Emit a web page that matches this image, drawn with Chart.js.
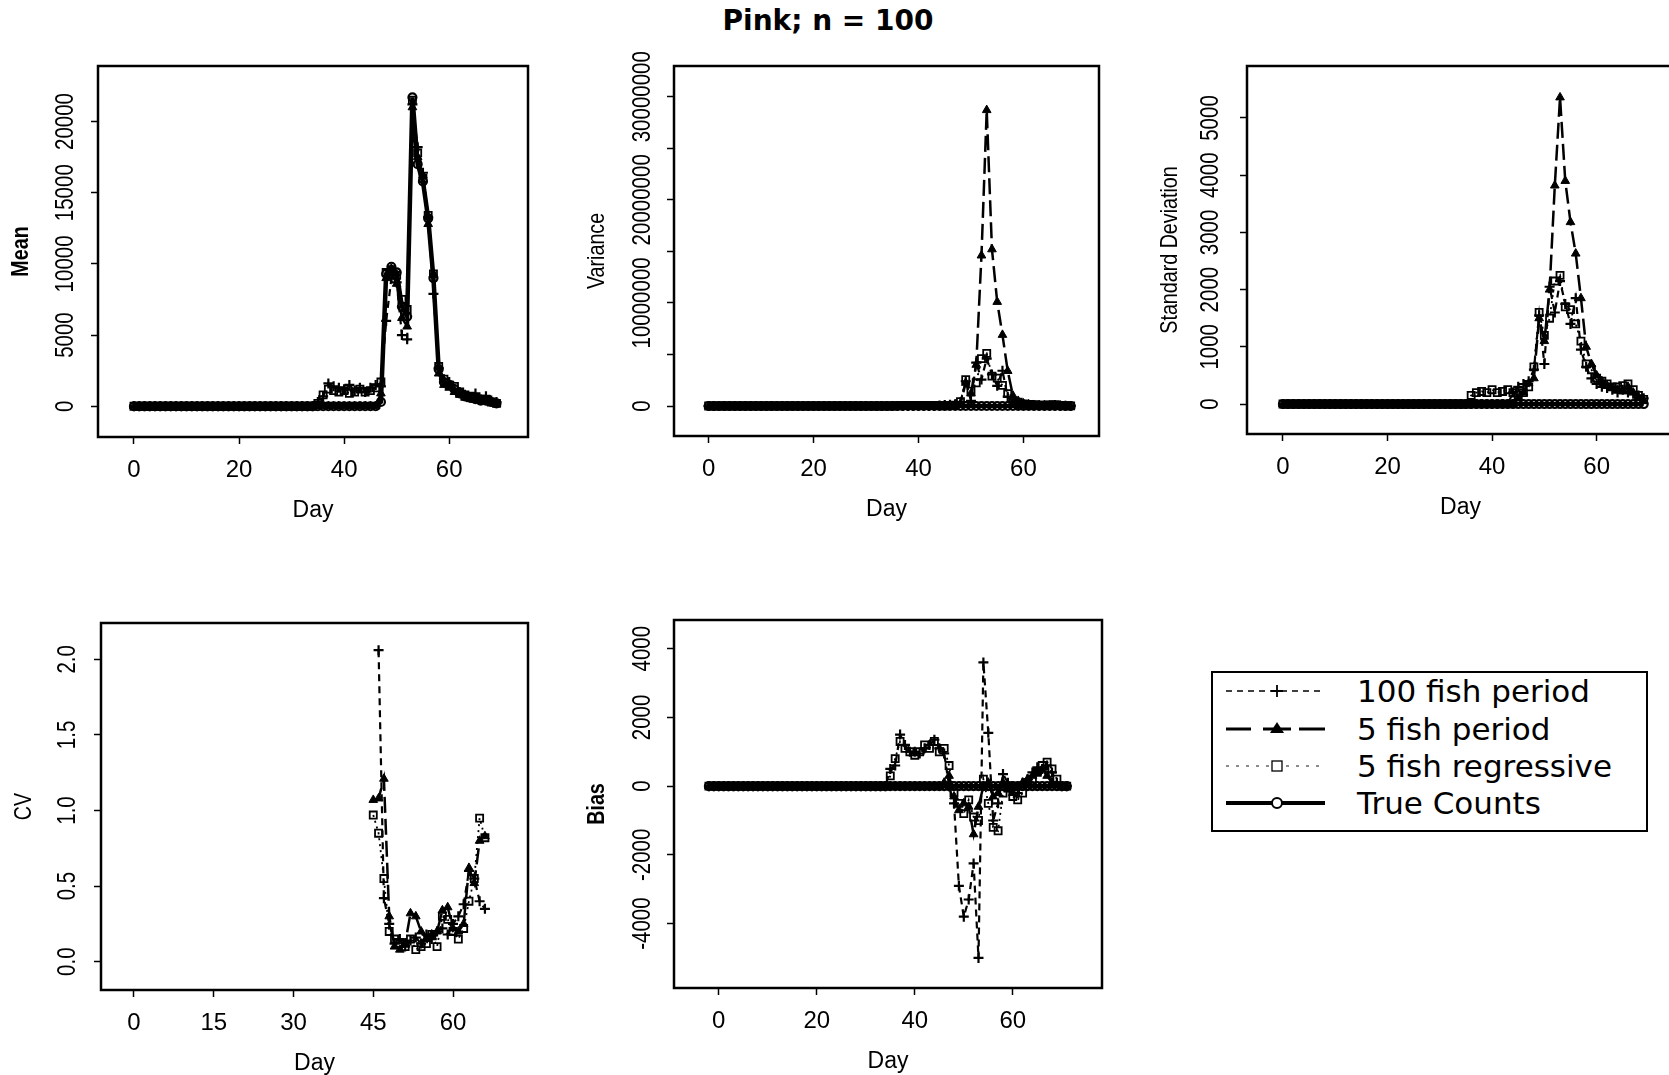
<!DOCTYPE html>
<html>
<head>
<meta charset="utf-8">
<title>Pink; n = 100</title>
<script src="https://cdn.jsdelivr.net/npm/chart.js@4.4.1/dist/chart.umd.min.js"></script>
<style>
  html, body { margin: 0; padding: 0; background: #fff; overflow: hidden; }
  #page { position: relative; width: 1669px; height: 1075px; overflow: hidden; background: #fff; }
  .panel { position: absolute; }
  #title {
    position: absolute; left: 578px; top: 5px; width: 500px; text-align: center;
    font: bold 28px "DejaVu Sans", sans-serif; line-height: 32px; color: #000;
  }
  #legend { position: absolute; left: 1211px; top: 671px; }
  #legend text { font-family: "DejaVu Sans", sans-serif; font-size: 31px; fill: #000; }
</style>
</head>
<body>
<div id="page">
  <div id="title">Pink; n = 100</div>
  <svg id="legend" width="437" height="162">
    <rect x="1" y="1" width="435" height="159" fill="#fff" stroke="#000" stroke-width="2"/>
    <!-- 100 fish period -->
    <line x1="15" y1="20" x2="114" y2="20" stroke="#000" stroke-width="1.3" stroke-dasharray="6,5"/>
    <path d="M60 20 H72 M66 14 V26" stroke="#000" stroke-width="1.8" fill="none"/>
    <text x="146" y="20" dominant-baseline="central">100 fish period</text>
    <!-- 5 fish period -->
    <path d="M15 58 H40 M52 58 H80 M88 58 H114" stroke="#000" stroke-width="3" fill="none"/>
    <path d="M66 51 L73 62 L59 62 Z" fill="#000"/>
    <text x="146" y="58" dominant-baseline="central">5 fish period</text>
    <!-- 5 fish regressive -->
    <line x1="15" y1="95" x2="114" y2="95" stroke="#666" stroke-width="1.3" stroke-dasharray="3,7"/>
    <rect x="61" y="90" width="10" height="10" fill="#fff" stroke="#000" stroke-width="1.3"/>
    <text x="146" y="95" dominant-baseline="central">5 fish regressive</text>
    <!-- True Counts -->
    <line x1="15" y1="132" x2="114" y2="132" stroke="#000" stroke-width="4"/>
    <circle cx="66" cy="132" r="5" fill="#fff" stroke="#000" stroke-width="2"/>
    <text x="146" y="132" dominant-baseline="central">True Counts</text>
  </svg>
</div>

<script>
// days
const days = [
  0, 1, 2, 3, 4, 5, 6, 7, 8, 9,
  10, 11, 12, 13, 14, 15, 16, 17, 18, 19,
  20, 21, 22, 23, 24, 25, 26, 27, 28, 29,
  30, 31, 32, 33, 34, 35, 36, 37, 38, 39,
  40, 41, 42, 43, 44, 45, 46, 47, 48, 49,
  50, 51, 52, 53, 54, 55, 56, 57, 58, 59,
  60, 61, 62, 63, 64, 65, 66, 67, 68, 69,
];
const cvDays = [45, 46, 47, 48, 49, 50, 51, 52, 53, 54, 55, 56, 57, 58, 59, 60, 61, 62, 63, 64, 65, 66];
const biasDays = [
  -2, -1, 0, 1, 2, 3, 4, 5, 6, 7,
  8, 9, 10, 11, 12, 13, 14, 15, 16, 17,
  18, 19, 20, 21, 22, 23, 24, 25, 26, 27,
  28, 29, 30, 31, 32, 33, 34, 35, 36, 37,
  38, 39, 40, 41, 42, 43, 44, 45, 46, 47,
  48, 49, 50, 51, 52, 53, 54, 55, 56, 57,
  58, 59, 60, 61, 62, 63, 64, 65, 66, 67,
  68, 69, 70, 71,
];

// mean
const meanTrue = [
  0, 0, 0, 0, 0, 0, 0, 0, 0, 0,
  0, 0, 0, 0, 0, 0, 0, 0, 0, 0,
  0, 0, 0, 0, 0, 0, 0, 0, 0, 0,
  0, 0, 0, 0, 0, 0, 0, 0, 0, 0,
  0, 0, 0, 0, 0, 0, 0, 300, 9300, 9800,
  9400, 7000, 6300, 21700, 17000, 15800, 13200, 9000, 2600, 1700,
  1500, 1200, 900, 700, 600, 500, 400, 400, 300, 200,
];
const mean100 = [
  0, 0, 0, 0, 0, 0, 0, 0, 0, 0,
  0, 0, 0, 0, 0, 0, 0, 0, 0, 0,
  0, 0, 0, 0, 0, 0, 0, 0, 0, 0,
  0, 0, 0, 0, 0, 300, 700, 1600, 1400, 1300,
  1200, 1500, 1100, 1300, 1000, 1300, 1500, 1400, 6000, 9000,
  8700, 5000, 4700, 21200, 18200, 16400, 13300, 7900, 2700, 1900,
  1700, 1200, 1000, 800, 600, 900, 500, 700, 400, 300,
];
const mean5 = [
  0, 0, 0, 0, 0, 0, 0, 0, 0, 0,
  0, 0, 0, 0, 0, 0, 0, 0, 0, 0,
  0, 0, 0, 0, 0, 0, 0, 0, 0, 0,
  0, 0, 0, 0, 0, 0, 0, 0, 0, 0,
  0, 0, 0, 0, 0, 0, 0, 900, 9000, 9400,
  8600, 6200, 5600, 21000, 17500, 16200, 12800, 9300, 2300, 1500,
  1300, 1000, 800, 600, 500, 450, 400, 350, 250, 150,
];
const mean5reg = [
  0, 0, 0, 0, 0, 0, 0, 0, 0, 0,
  0, 0, 0, 0, 0, 0, 0, 0, 0, 0,
  0, 0, 0, 0, 0, 0, 0, 0, 0, 0,
  0, 0, 0, 0, 0, 200, 800, 1200, 1100, 1000,
  1100, 900, 1000, 1200, 1000, 1100, 1300, 1700, 9400, 9600,
  9200, 7500, 6800, 21500, 17800, 16000, 13400, 9300, 2800, 1900,
  1500, 1400, 1000, 800, 700, 600, 500, 500, 300, 200,
];

// variance
const varTrue = [
  0, 0, 0, 0, 0, 0, 0, 0, 0, 0,
  0, 0, 0, 0, 0, 0, 0, 0, 0, 0,
  0, 0, 0, 0, 0, 0, 0, 0, 0, 0,
  0, 0, 0, 0, 0, 0, 0, 0, 0, 0,
  0, 0, 0, 0, 0, 0, 0, 0, 0, 0,
  0, 0, 0, 0, 0, 0, 0, 0, 0, 0,
  0, 0, 0, 0, 0, 0, 0, 0, 0, 0,
];
const var100 = [
  0, 0, 0, 0, 0, 0, 0, 0, 0, 0,
  0, 0, 0, 0, 0, 0, 0, 0, 0, 0,
  0, 0, 0, 0, 0, 0, 0, 0, 0, 0,
  0, 0, 0, 0, 0, 0, 0, 0, 0, 0,
  0, 0, 0, 0, 40000, 90000, 120000, 160000, 360000, 2400000,
  490000, 4200000, 2560000, 4600000, 3060000, 1960000, 3420000, 900000, 420000, 200000,
  120000, 90000, 80000, 60000, 40000, 60000, 40000, 30000, 20000, 10000,
];
const var5 = [
  0, 0, 0, 0, 0, 0, 0, 0, 0, 0,
  0, 0, 0, 0, 0, 0, 0, 0, 0, 0,
  0, 0, 0, 0, 0, 0, 0, 0, 0, 0,
  0, 0, 0, 0, 0, 0, 0, 0, 0, 0,
  0, 0, 0, 0, 0, 10000, 40000, 130000, 200000, 2250000,
  1210000, 4000000, 14600000, 28700000, 15200000, 10100000, 6900000, 3400000, 1000000, 490000,
  250000, 160000, 100000, 80000, 60000, 50000, 90000, 40000, 10000, 0,
];
const var5reg = [
  0, 0, 0, 0, 0, 0, 0, 0, 0, 0,
  0, 0, 0, 0, 0, 0, 0, 0, 0, 0,
  0, 0, 0, 0, 0, 0, 0, 0, 0, 0,
  0, 0, 0, 0, 0, 0, 20000, 40000, 50000, 40000,
  60000, 40000, 50000, 60000, 40000, 20000, 40000, 90000, 420000, 2560000,
  1440000, 2250000, 4600000, 5100000, 2900000, 2700000, 2000000, 1200000, 490000, 360000,
  200000, 160000, 120000, 90000, 90000, 100000, 120000, 60000, 20000, 10000,
];

// standard deviation
const sdTrue = [
  0, 0, 0, 0, 0, 0, 0, 0, 0, 0,
  0, 0, 0, 0, 0, 0, 0, 0, 0, 0,
  0, 0, 0, 0, 0, 0, 0, 0, 0, 0,
  0, 0, 0, 0, 0, 0, 0, 0, 0, 0,
  0, 0, 0, 0, 0, 0, 0, 0, 0, 0,
  0, 0, 0, 0, 0, 0, 0, 0, 0, 0,
  0, 0, 0, 0, 0, 0, 0, 0, 0, 0,
];
const sd100 = [
  0, 0, 0, 0, 0, 0, 0, 0, 0, 0,
  0, 0, 0, 0, 0, 0, 0, 0, 0, 0,
  0, 0, 0, 0, 0, 0, 0, 0, 0, 0,
  0, 0, 0, 0, 0, 0, 0, 0, 0, 0,
  0, 0, 0, 0, 200, 300, 350, 400, 600, 1550,
  700, 2050, 1600, 2150, 1750, 1400, 1850, 950, 650, 450,
  350, 300, 280, 250, 200, 250, 200, 180, 150, 100,
];
const sd5 = [
  0, 0, 0, 0, 0, 0, 0, 0, 0, 0,
  0, 0, 0, 0, 0, 0, 0, 0, 0, 0,
  0, 0, 0, 0, 0, 0, 0, 0, 0, 0,
  0, 0, 0, 0, 0, 0, 0, 0, 0, 0,
  0, 0, 0, 0, 0, 100, 200, 360, 450, 1500,
  1100, 2000, 3820, 5360, 3900, 3180, 2630, 1850, 1000, 700,
  500, 400, 320, 280, 250, 220, 300, 200, 120, 50,
];
const sd5reg = [
  0, 0, 0, 0, 0, 0, 0, 0, 0, 0,
  0, 0, 0, 0, 0, 0, 0, 0, 0, 0,
  0, 0, 0, 0, 0, 0, 0, 0, 0, 0,
  0, 0, 0, 0, 0, 0, 150, 200, 220, 200,
  250, 200, 220, 250, 200, 150, 200, 300, 650, 1600,
  1200, 1500, 2150, 2250, 1700, 1650, 1400, 1100, 700, 600,
  450, 400, 350, 300, 300, 320, 350, 250, 150, 80,
];

// cv (days 45-66)
const cv100 = [null, 2.06, 0.42, 0.25, 0.12, 0.15, 0.10, 0.14, 0.16, 0.12, 0.18, 0.15, 0.20, 0.22, 0.18, 0.25, 0.30, 0.38, 0.60, 0.55, 0.40, 0.35];
const cv5 = [1.07, 1.08, 1.21, 0.30, 0.10, 0.08, 0.12, 0.32, 0.30, 0.20, 0.15, 0.18, 0.20, 0.34, 0.36, 0.22, 0.20, 0.25, 0.62, 0.52, 0.80, 0.83];
const cv5reg = [0.97, 0.85, 0.55, 0.20, 0.15, 0.12, 0.10, 0.15, 0.08, 0.10, 0.12, 0.18, 0.10, 0.30, 0.28, 0.20, 0.15, 0.22, 0.40, 0.55, 0.95, 0.82];

// bias (days -2..71)
const biasTrue = [
  0, 0, 0, 0, 0, 0, 0, 0, 0, 0,
  0, 0, 0, 0, 0, 0, 0, 0, 0, 0,
  0, 0, 0, 0, 0, 0, 0, 0, 0, 0,
  0, 0, 0, 0, 0, 0, 0, 0, 0, 0,
  0, 0, 0, 0, 0, 0, 0, 0, 0, 0,
  0, 0, 0, 0, 0, 0, 0, 0, 0, 0,
  0, 0, 0, 0, 0, 0, 0, 0, 0, 0,
  0, 0, 0, 0,
];
const bias100 = [
  0, 0, 0, 0, 0, 0, 0, 0, 0, 0,
  0, 0, 0, 0, 0, 0, 0, 0, 0, 0,
  0, 0, 0, 0, 0, 0, 0, 0, 0, 0,
  0, 0, 0, 0, 0, 0, 0, 500, 600, 1500,
  1200, 1000, 1000, 950, 1100, 1200, 1350, 1100, 950, 0,
  -500, -2900, -3800, -3300, -2250, -5000, 3600, 1550, -1000, -500,
  350, 100, 0, -200, 100, 200, 400, 550, 500, 600,
  400, 100, 0, 0,
];
const bias5 = [
  0, 0, 0, 0, 0, 0, 0, 0, 0, 0,
  0, 0, 0, 0, 0, 0, 0, 0, 0, 0,
  0, 0, 0, 0, 0, 0, 0, 0, 0, 0,
  0, 0, 0, 0, 0, 0, 0, 0, 0, 0,
  0, 0, 0, 0, 0, 0, 0, 0, 100, 300,
  -300, -700, -500, -600, -1400, -600, 0, 100, -300, -200,
  100, -100, -200, 0, 100, 200, 300, 400, 500, 300,
  100, 50, 0, 0,
];
const bias5reg = [
  0, 0, 0, 0, 0, 0, 0, 0, 0, 0,
  0, 0, 0, 0, 0, 0, 0, 0, 0, 0,
  0, 0, 0, 0, 0, 0, 0, 0, 0, 0,
  0, 0, 0, 0, 0, 0, 0, 300, 800, 1300,
  1100, 1000, 900, 1000, 1200, 1100, 1300, 1000, 1100, 600,
  -200, -500, -800, -400, -900, -1000, 200, -500, -1200, -1300,
  -200, 0, -300, -400, -200, 100, 200, 400, 600, 700,
  500, 200, 0, 0,
];

// tick labels
const xTicks = [0, 20, 40, 60];
const xTickLabels = ["0", "20", "40", "60"];
const cvXTicks = [0, 15, 30, 45, 60];
const cvXTickLabels = ["0", "15", "30", "45", "60"];
const meanYTicks = [0, 5000, 10000, 15000, 20000];
const meanYLabels = ["0", "5000", "10000", "15000", "20000"];
const varYTicks = [0, 5000000, 10000000, 15000000, 20000000, 25000000, 30000000];
const varYLabels = ["0", "", "10000000", "", "20000000", "", "30000000"];
const sdYTicks = [0, 1000, 2000, 3000, 4000, 5000];
const sdYLabels = ["0", "1000", "2000", "3000", "4000", "5000"];
const cvYTicks = [0, 0.5, 1, 1.5, 2];
const cvYLabels = ["0.0", "0.5", "1.0", "1.5", "2.0"];
const biasYTicks = [-4000, -2000, 0, 2000, 4000];
const biasYLabels = ["-4000", "-2000", "0", "2000", "4000"];

// line styles for the four series
const styles = {
  p100: { borderDash: [7, 5], borderWidth: 2.2, pointStyle: "cross", pointRadius: 5, pointBorderWidth: 2.2, pointBackgroundColor: "#000" },
  p5: { borderDash: [16, 6], borderWidth: 2.5, pointStyle: "triangle", pointRadius: 5, pointBorderWidth: 1, pointBackgroundColor: "#000" },
  reg: { borderDash: [2, 4], borderWidth: 1.8, pointStyle: "rect", pointRadius: 5, pointBorderWidth: 1.8, pointBackgroundColor: "rgba(0,0,0,0)" },
  tc: { borderDash: [], borderWidth: 4.5, pointStyle: "circle", pointRadius: 4, pointBorderWidth: 2.2, pointBackgroundColor: "rgba(0,0,0,0)" },
};

const sans = '"Liberation Sans", Arial, sans-serif';
const TOP = 45; // room above the plot box for the top tick label

function series(xs, ys, style, label) {
  return {
    label: label,
    data: xs.map((x, i) => ({ x: x, y: ys[i] })),
    borderColor: "#000",
    pointBorderColor: "#000",
    tension: 0,
    spanGaps: false,
    ...styles[style],
  };
}

// rotated text, squeezed along its length like the narrow print of the original
function vText(ctx, text, x, y) {
  const w = ctx.measureText(text).width;
  ctx.save();
  ctx.translate(x, y);
  ctx.rotate(-Math.PI / 2);
  ctx.fillText(text, 0, 0, w * 0.82);
  ctx.restore();
}

function rAxes(p) {
  return {
    id: "rAxes",
    afterDraw(chart) {
      const { ctx, chartArea: a, scales } = chart;
      ctx.save();
      ctx.strokeStyle = "#000";
      ctx.lineWidth = 2.5;
      ctx.strokeRect(a.left, a.top, a.right - a.left, a.bottom - a.top);
      ctx.fillStyle = "#000";
      ctx.textAlign = "center";
      ctx.textBaseline = "middle";
      ctx.font = "25px " + sans;
      p.yTicks.forEach((v, i) => {
        if (p.yLabels[i]) vText(ctx, p.yLabels[i], a.left - p.gap, scales.y.getPixelForValue(v));
      });
      ctx.font = (p.bold ? "bold " : "") + "24px " + sans;
      vText(ctx, p.yTitle, a.left - 77, (a.top + a.bottom) / 2);
      ctx.restore();
    },
  };
}

function makePanel(p) {
  const page = document.getElementById("page");
  const wrap = document.createElement("div");
  wrap.className = "panel";
  wrap.style.left = (p.box.l - 100) + "px";
  wrap.style.top = (p.box.t - TOP) + "px";
  const canvas = document.createElement("canvas");
  const w = p.box.r - p.box.l + 110;
  const h = p.box.b - p.box.t + TOP + 90;
  canvas.width = w;
  canvas.height = h;
  canvas.style.width = w + "px";
  canvas.style.height = h + "px";
  wrap.appendChild(canvas);
  page.appendChild(wrap);

  new Chart(canvas.getContext("2d"), {
    type: "line",
    data: { datasets: p.datasets },
    options: {
      responsive: false,
      animation: false,
      devicePixelRatio: 1,
      layout: { padding: { left: 0, top: TOP, right: 10, bottom: 0 } },
      plugins: { legend: { display: false }, tooltip: { enabled: false } },
      scales: {
        x: {
          type: "linear",
          min: p.xMin,
          max: p.xMax,
          afterFit: (s) => { s.height = 90; },
          afterBuildTicks: (s) => { s.ticks = p.xTicks.map((v) => ({ value: v })); },
          ticks: {
            autoSkip: false,
            maxRotation: 0,
            padding: 12,
            color: "#000",
            font: { family: sans, size: 24 },
            callback: (v) => p.xLabels[p.xTicks.indexOf(v)],
          },
          grid: { drawOnChartArea: false, drawTicks: true, tickLength: 7, tickColor: "#000", tickWidth: 1.5 },
          border: { display: false },
          title: { display: true, text: "Day", color: "#000", font: { family: sans, size: 23 }, padding: { top: 0, bottom: 3 } },
        },
        y: {
          type: "linear",
          min: p.yMin,
          max: p.yMax,
          afterFit: (s) => { s.width = 100; },
          afterBuildTicks: (s) => { s.ticks = p.yTicks.map((v) => ({ value: v })); },
          ticks: { display: false },
          grid: { drawOnChartArea: false, drawTicks: true, tickLength: 7, tickColor: "#000", tickWidth: 1.5 },
          border: { display: false },
          title: { display: false },
        },
      },
    },
    plugins: [rAxes(p)],
  });
}

makePanel({
  box: { l: 98, t: 66, r: 528, b: 437 },
  xMin: -6.85, xMax: 75, yMin: -2160, yMax: 23900,
  xTicks: xTicks, xLabels: xTickLabels, yTicks: meanYTicks, yLabels: meanYLabels,
  yTitle: "Mean", bold: true, gap: 32,
  datasets: [
    series(days, meanTrue, "tc", "True Counts"),
    series(days, mean100, "p100", "100 fish period"),
    series(days, mean5, "p5", "5 fish period"),
    series(days, mean5reg, "reg", "5 fish regressive"),
  ],
});

makePanel({
  box: { l: 674, t: 66, r: 1099, b: 436 },
  xMin: -6.6, xMax: 74.4, yMin: -2910000, yMax: 32980000,
  xTicks: xTicks, xLabels: xTickLabels, yTicks: varYTicks, yLabels: varYLabels,
  yTitle: "Variance", bold: false, gap: 31,
  datasets: [
    series(days, varTrue, "tc", "True Counts"),
    series(days, var100, "p100", "100 fish period"),
    series(days, var5, "p5", "5 fish period"),
    series(days, var5reg, "reg", "5 fish regressive"),
  ],
});

makePanel({
  box: { l: 1247, t: 66, r: 1674, b: 434 },
  xMin: -6.88, xMax: 74.8, yMin: -524, yMax: 5909,
  xTicks: xTicks, xLabels: xTickLabels, yTicks: sdYTicks, yLabels: sdYLabels,
  yTitle: "Standard Deviation", bold: false, gap: 36,
  datasets: [
    series(days, sdTrue, "tc", "True Counts"),
    series(days, sd100, "p100", "100 fish period"),
    series(days, sd5, "p5", "5 fish period"),
    series(days, sd5reg, "reg", "5 fish regressive"),
  ],
});

makePanel({
  box: { l: 101, t: 623, r: 528, b: 990 },
  xMin: -6.2, xMax: 74.1, yMin: -0.187, yMax: 2.24,
  xTicks: cvXTicks, xLabels: cvXTickLabels, yTicks: cvYTicks, yLabels: cvYLabels,
  yTitle: "CV", bold: false, gap: 33,
  datasets: [
    series(cvDays, cv100, "p100", "100 fish period"),
    series(cvDays, cv5, "p5", "5 fish period"),
    series(cvDays, cv5reg, "reg", "5 fish regressive"),
  ],
});

makePanel({
  box: { l: 674, t: 620, r: 1102, b: 988 },
  xMin: -9.13, xMax: 78.2, yMin: -5875, yMax: 4835,
  xTicks: xTicks, xLabels: xTickLabels, yTicks: biasYTicks, yLabels: biasYLabels,
  yTitle: "Bias", bold: true, gap: 31,
  datasets: [
    series(biasDays, biasTrue, "tc", "True Counts"),
    series(biasDays, bias100, "p100", "100 fish period"),
    series(biasDays, bias5, "p5", "5 fish period"),
    series(biasDays, bias5reg, "reg", "5 fish regressive"),
  ],
});
</script>
</body>
</html>
